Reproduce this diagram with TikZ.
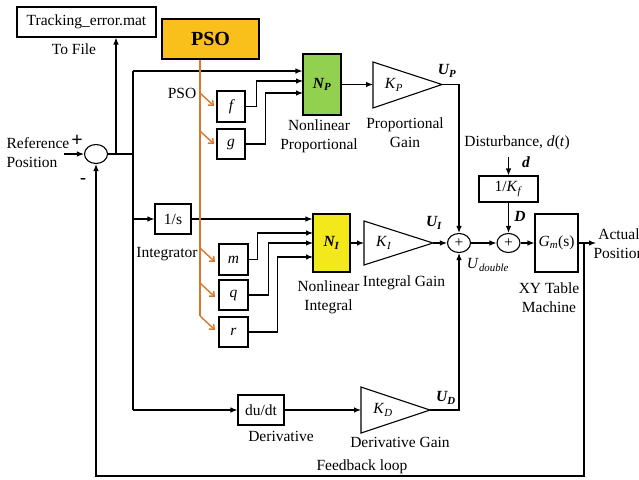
\documentclass[tikz,border=0pt]{standalone}
\usepackage{fontspec}
\setmainfont{Liberation Serif}
\usetikzlibrary{arrows.meta,calc,shapes.geometric}
\definecolor{psoY}{RGB}{249,192,27}
\definecolor{npG}{RGB}{146,208,80}
\definecolor{niY}{RGB}{242,232,28}
\definecolor{psoO}{RGB}{217,120,45}
\begin{document}
\begin{tikzpicture}[x=1pt,y=-1pt, line width=1.1pt,
  every node/.style={font=\fontsize{15.5}{19}\selectfont},
  box/.style={draw, inner sep=0pt, line width=1.1pt},
  lbl/.style={inner sep=0pt, align=center},
  sumn/.style={draw, ellipse, minimum width=23pt, minimum height=19pt, inner sep=0pt, line width=1.1pt},
  arr/.style={-{Latex[length=7pt,width=5.5pt]}},
  oline/.style={draw=psoO, line width=1.5pt},
  oarr/.style={draw=psoO, line width=1.4pt, -{Straight Barb[length=4pt,width=7pt]}},
  bi/.style={font=\fontsize{15.5}{19}\selectfont\bfseries\itshape}]
\useasboundingbox (0,0) rectangle (639,479);

% ---- blocks
\node[box, minimum width=139, minimum height=30] (track) at (86.5,22) {Tracking\_error.mat};
\node[box, fill=psoY, minimum width=97, minimum height=40, font=\fontsize{20}{24}\selectfont\bfseries] (pso) at (210.5,39) {PSO};
\node[box, minimum width=28, minimum height=31] (f) at (231,106.5) {\itshape f};
\node[box, minimum width=28, minimum height=30] (g) at (231,144) {\itshape g};
\node[box, fill=npG, minimum width=38, minimum height=61, bi] (np) at (322,84.5) {N\textsubscript{P}};
\node[box, minimum width=59, minimum height=26] (kf) at (508.5,189) {1/\textit{K}\textsubscript{\textit{f}}};
\node[sumn] (s1) at (96,154) {};
\node[sumn] (s2) at (459,243) {+};
\node[sumn] (s3) at (508.5,243) {+};
\node[box, minimum width=43, minimum height=58] (gm) at (556.5,243) {\textit{G}\textsubscript{\textit{m}}(s)};
\node[box, minimum width=36, minimum height=30] (int) at (173,219) {1/s};
\node[box, fill=niY, minimum width=37, minimum height=58, bi] (ni) at (331.5,243) {N\textsubscript{I}};
\node[box, minimum width=29, minimum height=31] (m) at (233.5,259.5) {\itshape m};
\node[box, minimum width=29, minimum height=30] (q) at (233.5,295) {\itshape q};
\node[box, minimum width=29, minimum height=30] (r) at (233.5,332) {\itshape r};
\node[box, minimum width=46, minimum height=30] (du) at (261,410) {du/dt};

% ---- gain triangles
\coordinate (kpL) at (373,84.5); \coordinate (kpR) at (442,84.5);
\draw[line join=miter] (373,62) -- (kpR) -- (373,108) -- cycle;
\node[lbl] (kp) at (394,85) {\textit{K}\textsubscript{\textit{P}}};
\coordinate (kiL) at (364,243); \coordinate (kiR) at (433,243);
\draw[line join=miter] (364,221) -- (kiR) -- (364,265) -- cycle;
\node[lbl] (ki) at (384,243) {\textit{K}\textsubscript{\textit{I}}};
\coordinate (kdL) at (361,410); \coordinate (kdR) at (430,410);
\draw[line join=miter] (361,387) -- (kdR) -- (361,433) -- cycle;
\node[lbl] (kd) at (383,410) {\textit{K}\textsubscript{\textit{D}}};

% ---- helper coordinates
\coordinate (refin) at (64,154);
\coordinate (tap) at (116,154);
\coordinate (busT) at (133,71);
\coordinate (busM) at (133,154);
\coordinate (busB) at (133,410);
\coordinate (npi2) at (303,81);
\coordinate (npi3) at (303,93);
\coordinate (nii2) at (313,233);
\coordinate (nii3) at (313,243);
\coordinate (nii4) at (313,257);
\coordinate (din) at (508.5,157);
\coordinate (outP) at (596,243);
\coordinate (fbR) at (584,243);
\coordinate (fbB) at (584,476);

% ---- black connectors
\draw[arr] (refin) -- (s1.west);
\draw (s1.east) -- (busM);
\draw[arr] (tap) -- (tap |- track.south);
\draw (busT) -- (busB);
\draw[arr] (busT) -- (busT -| np.west);
\draw[arr] (f.east) -- ++(11,0) |- (npi2);
\draw[arr] (g.east) -- ++(20,0) |- (npi3);
\draw[arr] (np.east) -- (kpL);
\draw[arr] (kpR) -| (s2.north);
\draw[arr] (int.west -| busT) -- (int.west);
\draw[arr] (int.east) -- (int.east -| ni.west);
\draw[arr] (m.east) -- ++(9,0) |- (nii2);
\draw[arr] (q.east) -- ++(20,0) |- (nii3);
\draw[arr] (r.east) -- ++(29,0) |- (nii4);
\draw[arr] (ni.east) -- (kiL);
\draw[arr] (kiR) -- (s2.west);
\draw[arr] (du.west -| busB) -- (du.west);
\draw[arr] (du.east) -- (kdL);
\draw[arr] (kdR) -| (s2.south);
\draw[arr] (s2.east) -- (s3.west);
\draw[arr] (din) -- (kf.north);
\draw[arr] (kf.south) -- (s3.north);
\draw[arr] (s3.east) -- (gm.west);
\draw[arr] (gm.east) -- (outP);
\draw[arr] (fbR) -- (fbB) -| (s1.south);

% ---- PSO (orange) lines
\coordinate (oB) at (200,316);
\draw[oline] (oB |- pso.south) -- (oB);
\draw[oarr] (200,93) -- (214,106);
\draw[oarr] (200,131) -- (214,144);
\draw[oarr] (200,248) -- (215,262);
\draw[oarr] (200,283) -- (215,297);
\draw[oarr] (200,316) -- (215,330);

% ---- labels
\node[lbl] (tofile) at (74,49) {To File};
\node[lbl] (psolbl) at (182,93) {PSO};
\node[lbl, anchor=west, align=left] (refl) at (6,152.5) {Reference\\Position};
\node[lbl, font=\fontsize{20}{20}\selectfont\bfseries] (plus) at (77,141) {+};
\node[lbl, font=\fontsize{18}{18}\selectfont\bfseries] (minus) at (83,181) {-};
\node[lbl] (nplbl) at (319,136.5) {Nonlinear\\Proportional};
\node[lbl] (kplbl) at (405,132.5) {Proportional\\Gain};
\node[lbl, bi] (up) at (447,71) {U\textsubscript{P}};
\node[lbl] (dist) at (517,143) {Disturbance, \textit{d}(\textit{t})};
\node[lbl, bi] (dl) at (526,162) {d};
\node[lbl, bi] (Dl) at (520,216) {D};
\node[lbl, bi] (ui) at (434,223) {U\textsubscript{I}};
\node[lbl] (udbl) at (488,265) {\textit{U}\textsubscript{\textit{double}}};
\node[lbl] (intl) at (167,254) {Integrator};
\node[lbl] (nilbl) at (328.5,297.5) {Nonlinear\\Integral};
\node[lbl] (kilbl) at (404,283) {Integral Gain};
\node[lbl] (xylbl) at (549,298) {XY Table\\Machine};
\node[lbl] (actl) at (619,243.5) {Actual\\Position};
\node[lbl] (derl) at (281,436) {Derivative};
\node[lbl] (kdlbl) at (400,442) {Derivative Gain};
\node[lbl, bi] (ud) at (446,398) {U\textsubscript{D}};
\node[lbl] (fbl) at (362,467) {Feedback loop};
\end{tikzpicture}
\end{document}
